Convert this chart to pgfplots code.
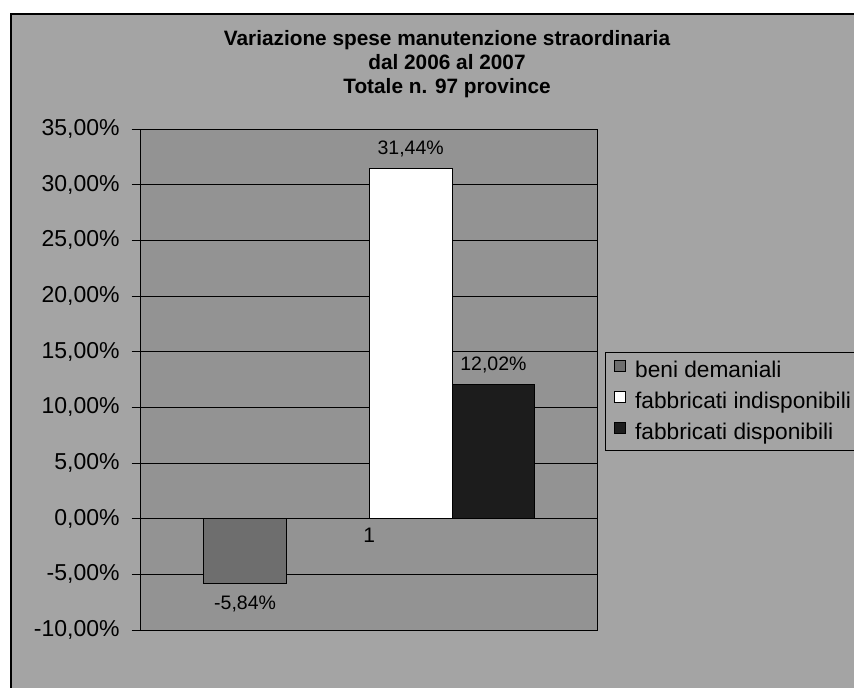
\documentclass[border=0pt]{standalone}
\usepackage{pgfplots}
\pgfplotsset{compat=1.18}
\usepackage{fontspec}
\setmainfont{Liberation Sans}
\definecolor{chartbg}{HTML}{A4A4A4}
\definecolor{plotbg}{HTML}{939393}
\definecolor{bargray}{HTML}{6E6E6E}
\definecolor{barblack}{HTML}{1C1C1C}
\begin{document}
\begin{tikzpicture}[x=1pt,y=1pt]
\path[use as bounding box] (0,0) rectangle (854,688);
\clip (0,0) rectangle (854,688);
\fill[white] (0,0) rectangle (854,688);
\fill[chartbg] (11,-5) rectangle (880,674);
\draw[black, line width=1.2pt] (11,-5) -- (11,674) -- (880,674);
\node[font=\bfseries\fontsize{20.8}{24}\selectfont, align=center] at (447,624) {Variazione spese manutenzione straordinaria\\dal 2006 al 2007\\Totale n. 97 province};
\begin{axis}[
  at={(170,52)}, anchor=south west,
  scale only axis, width=457pt, height=501pt,
  xmin=-2.76, xmax=2.76,
  ymin=-10, ymax=35,
  xtick=\empty,
  ytick={-10,-5,0,5,10,15,20,25,30,35},
  yticklabels={{-10,00\%},{-5,00\%},{0,00\%},{5,00\%},{10,00\%},{15,00\%},{20,00\%},{25,00\%},{30,00\%},{35,00\%}},
  yticklabel style={font=\fontsize{23}{27}\selectfont, inner sep=0pt, xshift=-12pt},
  ytick pos=left, tick align=outside, major tick length=9pt,
  tick style={black, line width=0.8pt},
  ymajorgrids, grid style={black, line width=0.8pt},
  axis line style={black, line width=0.8pt},
  axis background/.style={fill=plotbg},
  ybar, bar width=1, bar shift=0pt,
  nodes near coords, point meta=explicit symbolic,
  every node near coord/.append style={font=\fontsize{19.5}{23}\selectfont, black, yshift=8pt},
  legend style={at={(1.0153,0.555)}, anchor=north west, fill=chartbg, draw=black, line width=0.8pt,
    font=\fontsize{22.7}{26}\selectfont, row sep=9pt, inner xsep=4pt, inner ysep=7pt},
  legend cell align=left,
  legend image code/.code={\draw[#1,draw=black,line width=0.8pt] (5pt,-1pt) rectangle (16pt,10pt); \path[draw=none,fill=none] (0pt,0pt) -- (24pt,0pt);},
]
\addplot[fill=bargray, draw=black, line width=1pt, bar shift=0pt,
  every node near coord/.append style={anchor=north, yshift=-16pt}] coordinates {(-1.5,-5.84) [-5,84\%]};
\addplot[fill=white, draw=black, line width=1pt, bar shift=0pt] coordinates {(0.5,31.44) [31,44\%]};
\addplot[fill=barblack, draw=black, line width=1pt, bar shift=0pt] coordinates {(1.5,12.02) [12,02\%]};
\legend{beni demaniali, fabbricati indisponibili, fabbricati disponibili}
\node[font=\fontsize{21}{25}\selectfont, anchor=north, inner sep=0pt] at (axis cs:0,-0.8) {1};
\end{axis}
\end{tikzpicture}
\end{document}
